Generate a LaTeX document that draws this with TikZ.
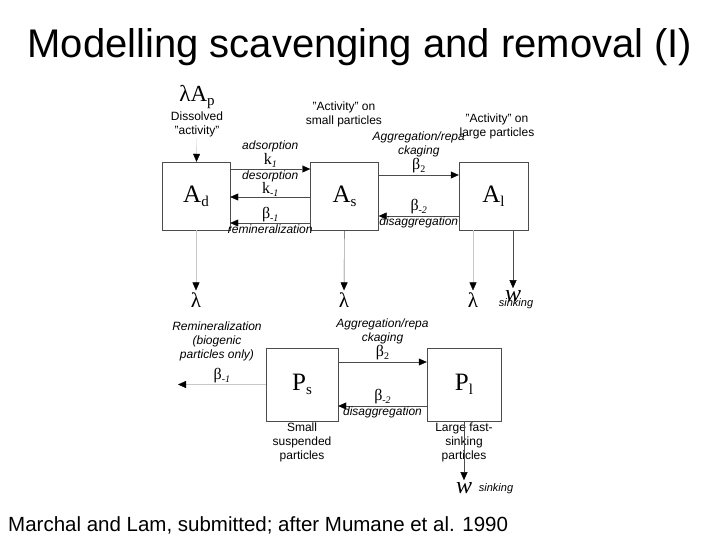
\documentclass[tikz,border=0pt]{standalone}
\usepackage{fontspec}
\setmainfont{Liberation Sans}
\newfontfamily\symfont{Liberation Serif}
\usetikzlibrary{arrows.meta,positioning}
\tikzset{%
  box/.style={draw=black!70,minimum width=68pt,minimum height=68pt,inner sep=0pt,font=\symfont\fontsize{25}{25}\selectfont},
  arrow/.style={draw=black!70,-{Triangle[length=8pt,width=7pt,color=black]}},
  faint/.style={draw=black!22},
  note/.style={font=\fontsize{12}{14}\selectfont,align=center,inner sep=1pt},
  rate/.style={font=\itshape\fontsize{12}{14}\selectfont,align=center,inner sep=1pt},
  sym/.style={font=\symfont\fontsize{16}{16}\selectfont,inner sep=0.5pt},
  big/.style={font=\symfont\fontsize{21}{21}\selectfont,inner sep=2pt},
}
\newcommand\lsub[1]{\raisebox{-4pt}{\fontsize{15}{15}\selectfont #1}}
\newcommand\rsub[1]{\raisebox{-3pt}{\fontsize{10}{10}\selectfont #1}}

\begin{document}
\begin{tikzpicture}[x=1pt,y=-1pt]
  \useasboundingbox (0,0) rectangle (720,540);
  \node[font=\fontsize{40}{48}\selectfont] (title) at (360,47) {Modelling scavenging and removal (I)};

  % activity boxes
  \node[box] (Ad) at (196,196) {A\lsub{d}};
  \node[box] (As) at (344.5,196) {A\lsub{s}};
  \node[box,minimum width=69pt] (Al) at (493.5,196) {A\lsub{l}};
  % particle boxes
  \node[box,minimum width=72pt,minimum height=73pt] (Ps) at (302,384.5) {P\lsub{s}};
  \node[box,minimum width=74pt,minimum height=73pt] (Pl) at (464,384.5) {P\lsub{l}};

  \node[big,font=\symfont\fontsize{23}{23}\selectfont] (Ap) at (197,97) {λA\lsub{p}};
  \node[note,below=0pt of Ap] (dis) {Dissolved\\"activity"};
  \node[note] (smalltxt) at (344,114) {"Activity" on\\small particles};
  \node[note] (largetxt) at (497,126) {"Activity" on\\large particles};
  \draw[arrow,faint] (dis) -- (Ad);

  \draw[arrow] ([yshift=27pt]Ad.east) -- node[sym,above=1pt] (k1) {k\rsub{\itshape 1}} ([yshift=27pt]As.west);
  \node[rate,above=-1pt of k1] (adsorb) {adsorption};
  \draw[arrow] ([yshift=-1pt]As.west) -- node[sym,above=0pt] (km1) {k\rsub{\itshape -1}} ([yshift=-1pt]Ad.east);
  \node[rate,above=-2pt of km1] (desorb) {desorption};
  \draw[arrow] ([yshift=-27pt]As.west) -- node[sym,above=0pt] (bm1) {β\rsub{\itshape -1}}
    node[rate,below=1pt] (remin) {remineralization} ([yshift=-27pt]Ad.east);
  \draw[arrow] ([yshift=21pt]As.east) -- node[sym,above=1pt] (b2) {β\rsub{2}} ([yshift=21pt]Al.west);
  \node[rate,above=0pt of b2] (aggr) {Aggregation/repa\\ckaging};
  \draw[arrow] ([yshift=-20pt]Al.west) -- node[sym,above=1pt] (bm2) {β\rsub{\itshape -2}}
    node[rate,below=0pt] (disaggr) {disaggregation} ([yshift=-20pt]As.east);

  % losses from the top row
  \node[big] (lamd) at (196,300) {λ};
  \node[big] (lams) at (344,300) {λ};
  \node[big] (laml) at (473,300) {λ};
  \node[big,font=\symfont\itshape\fontsize{24}{24}\selectfont] (wl) at (513,296) {w};
  \node[rate,font=\itshape\fontsize{11}{13}\selectfont] (sinkA) at (516,304) {sinking};
  \draw[arrow,faint] (Ad) -- (lamd);
  \draw[arrow] (As) -- (lams);
  \draw[arrow,faint] ([xshift=-20.5pt]Al.south) -- (laml);
  \draw[arrow] ([xshift=19.5pt]Al.south) -- (wl);

  % particle fluxes
  \node[rate] (remtxt) at (217,341) {Remineralization\\(biogenic\\particles only)};
  \coordinate (remend) at (178,384.5);
  \draw[arrow,faint] (Ps) -- node[sym,above=1pt] (pbm1) {β\rsub{\itshape -1}} (remend);
  \draw[arrow] ([yshift=22.5pt]Ps.east) -- node[sym,above=1pt] (pb2) {β\rsub{2}} ([yshift=22.5pt]Pl.west);
  \node[rate,above=0pt of pb2] (paggr) {Aggregation/repa\\ckaging};
  \draw[arrow] ([yshift=-21.5pt]Pl.west) -- node[sym,above=1pt] (pbm2) {β\rsub{\itshape -2}}
    node[rate,below=0pt] (pdisaggr) {disaggregation} ([yshift=-21.5pt]Ps.east);
  \node[note,below=0pt of Ps] (smallp) {Small\\suspended\\particles};
  \node[note,below=0pt of Pl] (largep) {Large fast-\\sinking\\particles};
  \node[big,font=\symfont\itshape\fontsize{24}{24}\selectfont] (wp) at (464,488) {w};
  \node[rate,font=\itshape\fontsize{11}{13}\selectfont] (sinkP) at (496,489) {sinking};
  \draw[arrow] (Pl) -- (wp);

  \node[anchor=west,inner sep=0pt,font=\fontsize{20.5}{24}\selectfont] (cite) at (8,525) {Marchal and Lam, submitted; after Mumane et al. 1990};
\end{tikzpicture}
\end{document}
